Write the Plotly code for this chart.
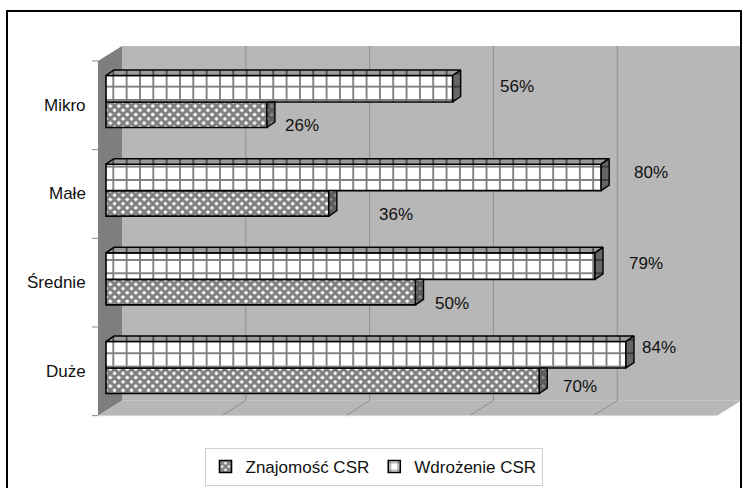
import plotly.graph_objects as go

# ---- data -------------------------------------------------------------
categories = ["Mikro", "Małe", "Średnie", "Duże"]
znajomosc = [26, 36, 50, 70]     # Znajomość CSR (%)
wdrozenie = [56, 80, 79, 84]     # Wdrożenie CSR (%)
grid_values = [0, 20, 40, 60, 80, 100]

# ---- page / projection constants (pixels) ----------------------------
W, H = 747, 488
X0 = 106.0        # x pixel of 0 % on the bar plane
PX_PCT = 6.19     # pixels per percent
Y0 = 102.0        # y pixel of the first category centre
PX_CAT = 88.67    # pixels per category
BAR_DX, BAR_DY = 8.0, -5.5        # depth of a bar
BACK_DX, BACK_DY = 16.0, -11.7    # bar plane -> back wall
FRONT_DX, FRONT_DY = -8.0, 3.3    # bar plane -> front edge
W_BAR = 26.5 / PX_CAT             # thickness of Wdrożenie bars
Z_BAR = 25.5 / PX_CAT             # thickness of Znajomość bars

GRAY_WALL = "#b7b7b7"
GRAY_SIDE = "#7e7e7e"
GRAY_GRID = "#8f8f8f"
FONT = "Liberation Sans, Arial, sans-serif"

CHECKER = dict(shape="x", size=6, solidity=0.75)

# label nudges in pixels (x right, y down)
w_label_dx = [45, 31, 32, 14]
w_label_dy = [-2, -5, -3, -7]
z_label_dx = [16, 48, 17, 22]
z_label_dy = [11, 11, 11, 6]


def px(xp):
    return xp / W


def py(yp):
    return 1 - yp / H


def plane_x(value, dx=0.0):
    return X0 + value * PX_PCT + dx


def cat_y(index, dy=0.0):
    return Y0 + index * PX_CAT + dy


x_range = [(0 - X0) / PX_PCT, (W - X0) / PX_PCT]
y_range = [(H - Y0) / PX_CAT, (0 - Y0) / PX_CAT]
ddx = BAR_DX / PX_PCT
ddy = -BAR_DY / PX_CAT

ypos = list(range(len(categories)))

fig = go.Figure()

# front faces of the bars
fig.add_trace(go.Bar(
    name="Znajomość CSR", y=ypos, x=znajomosc, orientation="h",
    offset=0, width=Z_BAR,
    marker=dict(color="white", line=dict(color="black", width=1.6),
                pattern=dict(**CHECKER, fgcolor="black", bgcolor="white")),
    hoverinfo="skip",
))
fig.add_trace(go.Bar(
    name="Wdrożenie CSR", y=ypos, x=wdrozenie, orientation="h",
    offset=-W_BAR, width=W_BAR,
    marker=dict(color="white", line=dict(color="black", width=1.6),
                pattern=dict(shape="+", size=13.33, solidity=0.26,
                             fgcolor="black", bgcolor="white")),
    hoverinfo="skip",
))

# depth faces of the bars
for i, (vz, vw) in enumerate(zip(znajomosc, wdrozenie)):
    top = i - W_BAR
    mid = i
    bot = i + Z_BAR
    # top face of the Wdrożenie bar
    fig.add_trace(go.Scatter(
        x=[0, vw, vw + ddx, ddx, 0], y=[top, top, top - ddy, top - ddy, top],
        fill="toself", mode="lines", line=dict(color="black", width=1.5),
        fillcolor="#9c9c9c",
        fillpattern=dict(shape="|", size=13.33, solidity=0.15,
                         fgcolor="black", bgcolor="#9c9c9c"),
        showlegend=False, hoverinfo="skip"))
    # end cap of the Wdrożenie bar
    fig.add_trace(go.Scatter(
        x=[vw, vw + ddx, vw + ddx, vw, vw],
        y=[top, top - ddy, mid - ddy, mid, top],
        fill="toself", mode="lines", line=dict(color="black", width=1.4),
        fillcolor="#666666",
        fillpattern=dict(shape="-", size=13.33, solidity=0.12,
                         fgcolor="black", bgcolor="#666666"),
        showlegend=False, hoverinfo="skip"))
    # visible part of the Znajomość end cap
    fig.add_trace(go.Scatter(
        x=[vz, vz + ddx, vz + ddx, vz, vz],
        y=[mid, mid, bot - ddy, bot, mid],
        fill="toself", mode="lines", line=dict(color="black", width=1.4),
        fillcolor="#707070",
        fillpattern=dict(**CHECKER, fgcolor="#2a2a2a", bgcolor="#8a8a8a"),
        showlegend=False, hoverinfo="skip"))

# ---- walls, floor and gridlines --------------------------------------
top_y = cat_y(-0.5)
bot_y = cat_y(len(categories) - 0.5)
bl, br = plane_x(0, BACK_DX), plane_x(100, BACK_DX)
bt, bb = top_y + BACK_DY, bot_y + BACK_DY
fl = plane_x(0, FRONT_DX)
fr = plane_x(100, FRONT_DX)
ft, fb = top_y + FRONT_DY, bot_y + FRONT_DY

shapes = []


def poly(points, fill, line_color=None, width=0):
    path = "M" + "L".join(f"{px(a):.5f},{py(b):.5f}" for a, b in points) + "Z"
    return dict(type="path", xref="paper", yref="paper", path=path,
                fillcolor=fill, layer="below",
                line=dict(color=line_color or fill, width=width))


shapes.append(poly([(bl, bt), (br, bt), (br, bb), (bl, bb)], GRAY_WALL))
shapes.append(poly([(fl, ft), (bl, bt), (bl, bb), (fl, fb)], GRAY_SIDE))
shapes.append(poly([(bl, bb), (br, bb), (fr, fb), (fl, fb)], GRAY_WALL))

for g in grid_values[1:-1]:
    gx = plane_x(g, BACK_DX)
    shapes.append(dict(type="line", xref="paper", yref="paper", layer="below",
                       x0=px(gx), x1=px(gx), y0=py(bt), y1=py(bb),
                       line=dict(color=GRAY_GRID, width=1)))
    fx = plane_x(g, FRONT_DX)
    shapes.append(dict(type="line", xref="paper", yref="paper", layer="below",
                       x0=px(gx), x1=px(fx), y0=py(bb), y1=py(fb),
                       line=dict(color=GRAY_GRID, width=1)))

# floor front edge highlight
shapes.append(dict(type="line", xref="paper", yref="paper", layer="below",
                   x0=px(fl), x1=px(fr), y0=py(fb), y1=py(fb),
                   line=dict(color="#d6d6d6", width=1)))

# category ticks on the front edge
for k in range(len(categories) + 1):
    ty = cat_y(k - 0.5, FRONT_DY)
    shapes.append(dict(type="line", xref="paper", yref="paper", layer="below",
                       x0=px(fl - 6), x1=px(fl), y0=py(ty), y1=py(ty),
                       line=dict(color="#8a8a8a", width=1)))

# outer frame (its bottom edge runs past the page)
shapes.append(dict(type="rect", xref="paper", yref="paper", layer="above",
                   x0=px(7), x1=px(741), y0=py(492), y1=py(11),
                   line=dict(color="black", width=2), fillcolor="rgba(0,0,0,0)"))

# ---- text ------------------------------------------------------------
annotations = []
for i, name in enumerate(categories):
    annotations.append(dict(
        text=name, xref="paper", yref="y", x=px(88), y=i,
        xanchor="right", yanchor="middle", yshift=-FRONT_DY,
        showarrow=False, font=dict(family=FONT, size=17, color="#111")))

for i, v in enumerate(wdrozenie):
    annotations.append(dict(
        text=f"{v}%", xref="x", yref="y", x=v, y=i - W_BAR / 2,
        xanchor="left", yanchor="middle",
        xshift=w_label_dx[i], yshift=-w_label_dy[i],
        showarrow=False, font=dict(family=FONT, size=17, color="#111")))
for i, v in enumerate(znajomosc):
    annotations.append(dict(
        text=f"{v}%", xref="x", yref="y", x=v, y=i + Z_BAR / 2,
        xanchor="left", yanchor="middle",
        xshift=z_label_dx[i], yshift=-z_label_dy[i],
        showarrow=False, font=dict(family=FONT, size=17, color="#111")))

fig.update_layout(
    width=W, height=H,
    margin=dict(l=0, r=0, t=0, b=0),
    paper_bgcolor="white", plot_bgcolor="rgba(0,0,0,0)",
    barmode="overlay",
    showlegend=True,
    legend=dict(orientation="h", x=0.5, xanchor="center",
                y=py(467), yanchor="middle",
                font=dict(family=FONT, size=17, color="#111"),
                bgcolor="rgba(0,0,0,0)", bordercolor="#cfcfcf", borderwidth=1,
                traceorder="normal"),
    xaxis=dict(range=x_range, visible=False, fixedrange=True),
    yaxis=dict(range=y_range, visible=False, fixedrange=True),
    shapes=shapes,
    annotations=annotations,
)

fig.write_html("out.html")
